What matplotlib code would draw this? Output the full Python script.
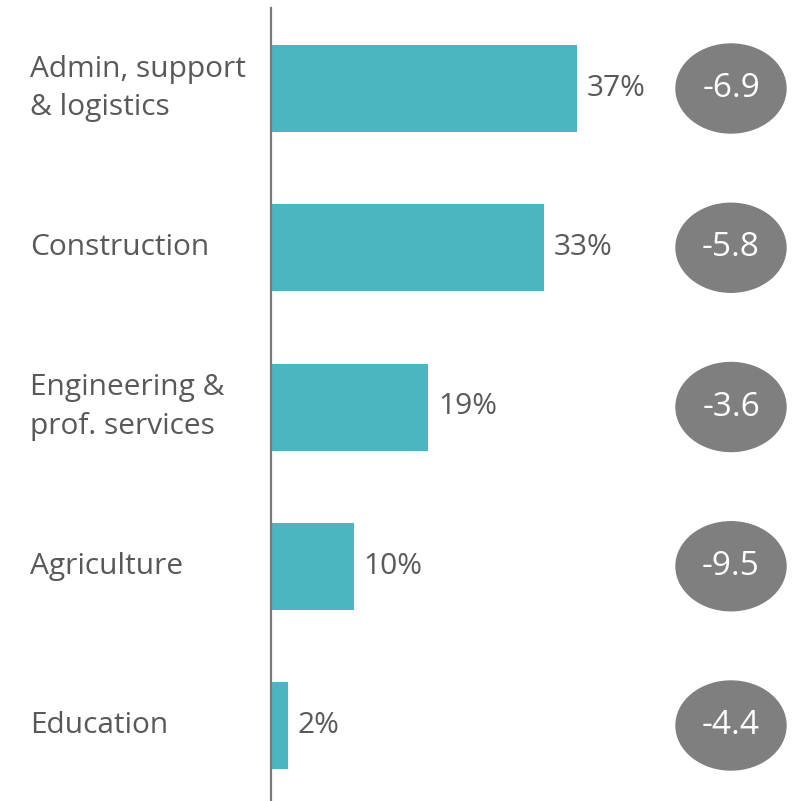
import matplotlib.pyplot as plt
from matplotlib.patches import Ellipse

categories = ['Admin, support\n& logistics', 'Construction', 'Engineering &\nprof. services',
              'Agriculture', 'Education']
shares = [37, 33, 19, 10, 2]
changes = [-6.9, -5.8, -3.6, -9.5, -4.4]

BAR = '#4BB5C1'
TEXT = '#595959'
BUBBLE = '#7F7F7F'

W, H = 797, 801
PX_PER_UNIT = 8.27      # pixels per percentage point
X0 = 271                # pixel of zero line
Y0, DY = 88.5, 159.25   # first bar centre, spacing (pixels)

fig = plt.figure(figsize=(W / 100, H / 100), dpi=100)
ax = fig.add_axes([0, 0, 1, 1])
ax.set_xlim(-X0 / PX_PER_UNIT, (W - X0) / PX_PER_UNIT)
ax.set_ylim((H - Y0) / DY, -Y0 / DY)
ax.axis('off')

plt.rcParams['font.family'] = ['Open Sans', 'DejaVu Sans']

ypos = list(range(len(categories)))
ax.barh(ypos, shares, height=87 / DY, color=BAR, zorder=2)

# zero line
ax.plot([0, 0], [(8 - Y0) / DY, (800 - Y0) / DY], color='#7a7a7a', lw=1.6, zorder=3)

label_x = (30 - X0) / PX_PER_UNIT
bub_x = (731 - X0) / PX_PER_UNIT
for y, cat, v, c in zip(ypos, categories, shares, changes):
    ax.text(label_x, y, cat, ha='left', va='center', fontsize=21.5, color=TEXT,
            linespacing=1.45, family='Open Sans')
    ax.text(v + 10 / PX_PER_UNIT, y, f'{v}%', ha='left', va='center', fontsize=21.5,
            color=TEXT, family='Open Sans')
    ax.add_patch(Ellipse((bub_x, y), 110 / PX_PER_UNIT, 89 / DY, color=BUBBLE, zorder=2))
    ax.text(bub_x, y, f'{c}', ha='center', va='center', fontsize=24, color='white',
            family='Open Sans', zorder=3)

fig.savefig('out.png', dpi=100)
